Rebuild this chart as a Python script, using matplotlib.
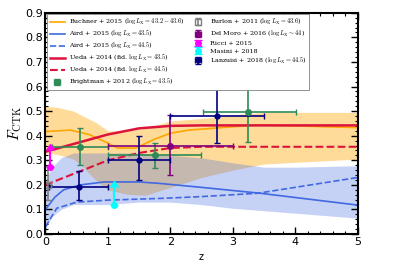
import numpy as np
import matplotlib
matplotlib.use('Agg')
import matplotlib.pyplot as plt
from matplotlib.ticker import MultipleLocator

plt.rcParams['mathtext.fontset'] = 'cm'

# Buchner+2015 band and median (logLx=43.2-43.6)
buch_x = [0, 0.2, 0.45, 0.6, 0.8, 1.0, 1.3, 1.6, 2.0, 2.5, 3.0, 3.5, 5.0]
buch_hi = [0.52, 0.515, 0.50, 0.48, 0.455, 0.42, 0.42, 0.43, 0.46, 0.47, 0.485, 0.495, 0.495]
buch_lo_x = [0, 0.3, 0.5, 0.8, 1.0, 1.5, 2.0, 2.5, 3.0, 3.5, 4.0, 5.0]
buch_lo = [0.33, 0.32, 0.30, 0.22, 0.18, 0.15, 0.19, 0.23, 0.26, 0.285, 0.295, 0.305]
buch_med_x = [0, 0.4, 0.7, 1.0, 1.15, 1.45, 1.72, 2.0, 2.3, 3.4, 5.0]
buch_med = [0.417, 0.423, 0.405, 0.37, 0.35, 0.35, 0.383, 0.41, 0.423, 0.444, 0.433]

# Aird+2015 band and curves
aird_x = [0, 0.1, 0.25, 0.45, 0.7, 1.0, 1.5, 2.0, 2.5, 3.0, 3.5, 4.0, 5.0]
aird_hi = [0.22, 0.27, 0.31, 0.33, 0.33, 0.33, 0.33, 0.32, 0.31, 0.29, 0.272, 0.272, 0.278]
aird_lo = [0.02, 0.07, 0.10, 0.12, 0.12, 0.12, 0.13, 0.13, 0.12, 0.105, 0.095, 0.085, 0.065]
aird435_x = [0, 0.03, 0.15, 0.29, 0.56, 0.94, 1.5, 1.83, 2.5, 3.44, 5.0]
aird435 = [0.10, 0.11, 0.15, 0.18, 0.20, 0.212, 0.212, 0.206, 0.19, 0.166, 0.118]
aird445_x = [0, 0.18, 0.5, 1.0, 1.83, 2.47, 3.4, 5.0]
aird445 = [0.03, 0.105, 0.13, 0.138, 0.145, 0.152, 0.166, 0.23]

# Ueda+2014 fiducial
ueda_x = [0, 0.5, 1.0, 1.5, 2.0, 2.5, 3.0, 4.0, 5.0]
ueda435 = [0.335, 0.37, 0.405, 0.43, 0.44, 0.442, 0.442, 0.442, 0.442]
ueda445 = [0.20, 0.25, 0.30, 0.33, 0.35, 0.355, 0.355, 0.355, 0.355]

# Brightman+2012
bri_x = [0.55, 1.75, 3.25]
bri_y = [0.355, 0.32, 0.495]
bri_xlo = [0.45, 0.75, 0.72]
bri_xhi = [0.45, 0.75, 0.77]
bri_ylo = [0.075, 0.05, 0.12]
bri_yhi = [0.075, 0.05, 0.16]

# Burlon+2011
bur_x = [0.04]
bur_y = [0.20]
bur_ylo = [0.062]
bur_yhi = [0.075]

# Del Moro+2016
dm_x = [2.0]
dm_y = [0.36]
dm_xerr = [1.0]
dm_ylo = [0.12]
dm_yhi = [0.125]

# Ricci+2015, Masini+2018 (lower limits)
ric_x, ric_y, ric_len = [0.07], [0.272], [0.07]
mas_x, mas_y, mas_len = [1.1], [0.117], [0.075]

# Lanzuisi+2018
lan_x = [0.53, 1.5, 2.75]
lan_y = [0.19, 0.30, 0.48]
lan_xlo = [0.48, 0.5, 0.75]
lan_xhi = [0.47, 0.5, 0.75]
lan_ylo = [0.05, 0.08, 0.108]
lan_yhi = [0.068, 0.10, 0.12]

fig = plt.figure(figsize=(3.99, 2.66), dpi=100)
ax = fig.add_axes([0.114, 0.12, 0.782, 0.832])

ax.fill_between(buch_x, buch_hi, np.interp(buch_x, buch_lo_x, buch_lo), color='orange', alpha=0.4, lw=0)
ax.fill_between(aird_x, aird_hi, aird_lo, color='royalblue', alpha=0.3, lw=0)
ax.plot(buch_med_x, buch_med, color='orange', lw=1.2, label=r'Buchner + 2015 ($\log L_{\rm X}=43.2-43.6$)')
ax.plot(aird435_x, aird435, color='royalblue', lw=1.2, label=r'Aird + 2015 ($\log L_{\rm X}=43.5$)')
ax.plot(aird445_x, aird445, color='royalblue', lw=1.2, ls='--', label=r'Aird + 2015 ($\log L_{\rm X}=44.5$)')
ax.plot(ueda_x, ueda435, color='crimson', lw=1.8, label=r'Ueda + 2014 (fid. $\log L_{\rm X}=43.5$)')
ax.plot(ueda_x, ueda445, color='crimson', lw=1.5, ls='--', label=r'Ueda + 2014 (fid. $\log L_{\rm X}=44.5$)')

eb = dict(capsize=2.5, elinewidth=1.2, capthick=1.0, ms=4, ls='none')
ax.errorbar(bri_x, bri_y, xerr=[bri_xlo, bri_xhi], yerr=[bri_ylo, bri_yhi], fmt='o',
            color='seagreen', label=r'Brightman + 2012 ($\log L_{\rm X}=43.5$)', **eb)
ax.errorbar(bur_x, bur_y, yerr=[bur_ylo, bur_yhi], fmt='s', color='grey', mfc='none',
            label=r'Burlon + 2011 ($\log L_{\rm X}=43.6$)', **eb)
ax.errorbar(dm_x, dm_y, xerr=dm_xerr, yerr=[dm_ylo, dm_yhi], fmt='o', color='purple',
            label=r'Del Moro + 2016 ($\log L_{\rm X}\sim44$)', **eb)
ax.errorbar(ric_x, ric_y, yerr=ric_len, lolims=True, fmt='o', color='magenta',
            label='Ricci + 2015', ms=4, elinewidth=1.5, capsize=3)
ax.errorbar(mas_x, mas_y, yerr=mas_len, lolims=True, fmt='o', color='cyan',
            label='Masini + 2018', ms=4, elinewidth=1.5, capsize=3)
ax.errorbar(lan_x, lan_y, xerr=[lan_xlo, lan_xhi], yerr=[lan_ylo, lan_yhi], fmt='o',
            color='navy', label=r'Lanzuisi + 2018 ($\log L_{\rm X}=44.5$)', ms=3.5,
            capsize=2.5, elinewidth=1.2, capthick=1.0, ls='none')

ax.set_xlim(0, 5)
ax.set_ylim(0, 0.9)
ax.xaxis.set_major_locator(MultipleLocator(1))
ax.xaxis.set_minor_locator(MultipleLocator(0.2))
ax.yaxis.set_major_locator(MultipleLocator(0.1))
ax.yaxis.set_minor_locator(MultipleLocator(0.02))
ax.tick_params(which='both', direction='in', top=True, right=True, labelsize=8, pad=2)
ax.tick_params(which='major', length=5, width=1)
ax.tick_params(which='minor', length=2.5, width=0.8)
for s in ax.spines.values():
    s.set_linewidth(1.5)
ax.set_xlabel('z', fontsize=7, labelpad=4)
ax.set_ylabel(r'$F_{\rm CTK}$', fontsize=11, labelpad=1)

leg = ax.legend(loc='upper left', ncol=2, fontsize=4.6, frameon=True, framealpha=1,
                edgecolor='grey', fancybox=False, borderaxespad=0.25, handlelength=2.4,
                handletextpad=0.6, columnspacing=0.9, labelspacing=0.3, borderpad=0.4)
leg.get_frame().set_linewidth(0.6)
for t in leg.get_texts():
    t.set_family('DejaVu Serif')

fig.savefig('out.png', dpi=100)
